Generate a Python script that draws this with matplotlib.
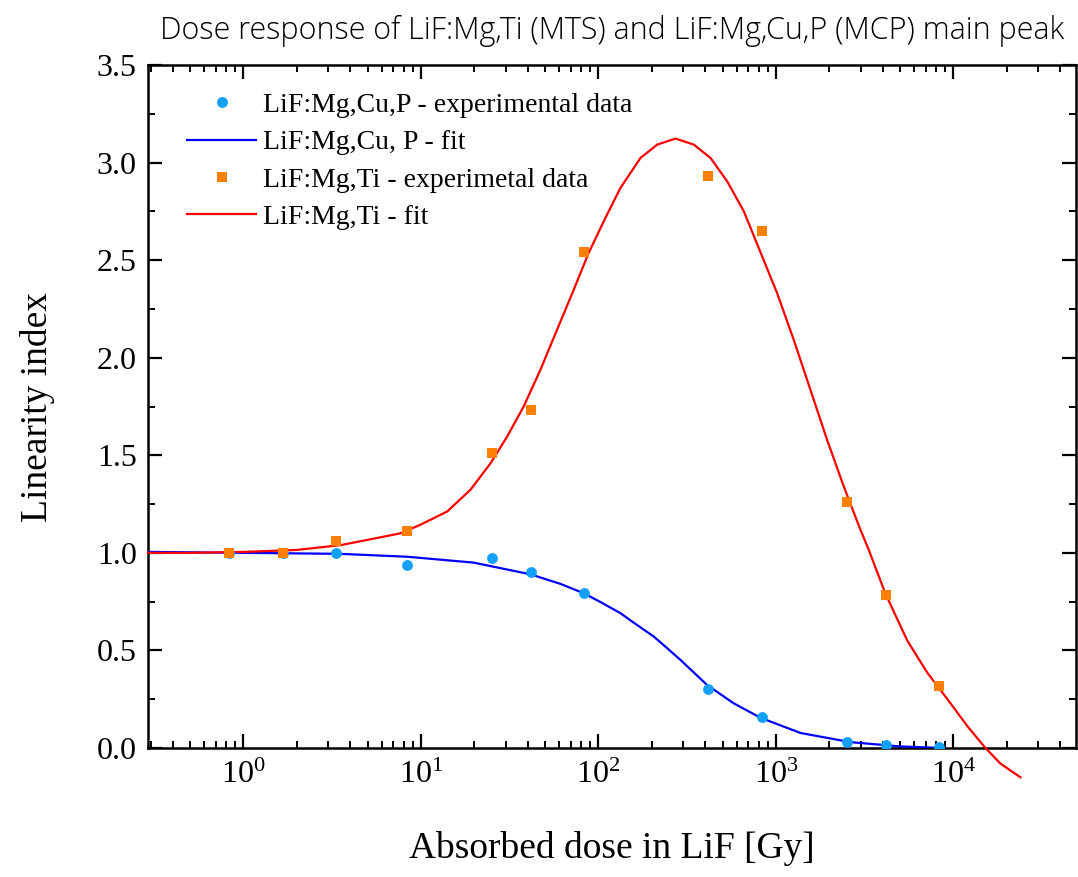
import numpy as np
import matplotlib
matplotlib.use("Agg")
import matplotlib.pyplot as plt
from matplotlib.ticker import LogLocator, MultipleLocator, NullFormatter, FormatStrFormatter

plt.rcParams['font.family'] = ['Liberation Serif', 'DejaVu Serif']
plt.rcParams['mathtext.fontset'] = 'custom'
plt.rcParams['mathtext.rm'] = 'Liberation Serif'
plt.rcParams['mathtext.it'] = 'Liberation Serif:italic'
plt.rcParams['mathtext.default'] = 'regular'

# ---- data ----
dose = [0.83, 1.66, 3.33, 8.33, 25, 41.6, 83.3, 416, 833, 2500, 4166, 8333]
mcp_exp = [1.00, 1.00, 1.00, 0.94, 0.975, 0.90, 0.795, 0.30, 0.16, 0.03, 0.015, 0.005]
mts_exp = [1.00, 1.00, 1.06, 1.11, 1.51, 1.73, 2.54, 2.93, 2.65, 1.26, 0.785, 0.32]

mcp_fit_x = [0.29, 1.0, 3.5, 8.4, 19.8, 41.4, 61.1, 82.6, 102.6, 133, 157, 205, 245,
             290, 409, 578, 818, 1374, 2630, 5012, 8710]
mcp_fit_y = [1.005, 1.0, 0.995, 0.98, 0.95, 0.89, 0.841, 0.793, 0.748, 0.691, 0.644,
             0.571, 0.51, 0.451, 0.323, 0.229, 0.155, 0.077, 0.03, 0.008, 0.0]

mts_fit_x = [0.29, 0.5, 1.0, 2.0, 3.55, 7.67, 9.93, 14.06, 19.0, 24.7, 30.6, 37.9,
             47.1, 58.5, 72.6, 88.1, 107.2, 133, 172.6, 214.3, 271.6, 344.4, 427.6,
             530.9, 659.2, 818.5, 1016, 1259, 1563, 1941, 2410, 2992, 3334, 4140,
             5495, 7129, 9247, 12020, 15140, 18400, 23820]
mts_fit_y = [1.00, 1.00, 1.005, 1.015, 1.04, 1.10, 1.144, 1.212, 1.323, 1.46, 1.596,
             1.75, 1.938, 2.144, 2.349, 2.537, 2.70, 2.87, 3.024, 3.092, 3.123, 3.092,
             3.024, 2.904, 2.75, 2.54, 2.33, 2.092, 1.836, 1.579, 1.34, 1.118, 1.015,
             0.79, 0.55, 0.385, 0.25, 0.11, 0.0, -0.08, -0.15]

labels = ["LiF:Mg,Cu,P - experimental data", "LiF:Mg,Cu, P - fit",
          "LiF:Mg,Ti - experimetal data", "LiF:Mg,Ti - fit"]
title = "Dose response of LiF:Mg,Ti (MTS) and LiF:Mg,Cu,P (MCP) main peak"

fig = plt.figure(figsize=(10.78, 8.77), dpi=100)
ax = fig.add_axes([148/1078, 1-748/877, (1076-148)/1078, (748-65)/877])

h1, = ax.plot(dose, mcp_exp, 'o', color='#12A0FA', markersize=7.8, markeredgewidth=0,
              label=labels[0], zorder=4)
h2, = ax.plot(mcp_fit_x, mcp_fit_y, '-', color='#0000FF', lw=1.6, label=labels[1], zorder=3)
h3, = ax.plot(dose, mts_exp, 's', color='#FF8000', markersize=6.5, markeredgewidth=0,
              label=labels[2], zorder=4)
h4, = ax.plot(mts_fit_x, mts_fit_y, '-', color='#FF0000', lw=1.6, label=labels[3],
              zorder=3, clip_on=False)

ax.set_xscale('log')
ax.set_xlim(0.29, 49000)
ax.set_ylim(0, 3.5)
ax.yaxis.set_major_locator(MultipleLocator(0.5))
ax.yaxis.set_minor_locator(MultipleLocator(0.25))
ax.xaxis.set_major_locator(LogLocator(base=10, numticks=20))
ax.xaxis.set_minor_locator(LogLocator(base=10, subs=np.arange(2, 10), numticks=20))
ax.xaxis.set_minor_formatter(NullFormatter())
ax.yaxis.set_major_formatter(FormatStrFormatter('%.1f'))

for s in ax.spines.values():
    s.set_linewidth(1.8)
ax.tick_params(axis='both', which='major', direction='in', length=10, width=1.6,
               labelsize=23, top=True, right=True)
ax.tick_params(axis='both', which='minor', direction='in', length=5, width=1.4,
               top=True, right=True)
ax.tick_params(axis='x', which='major', pad=9)
ax.tick_params(axis='y', which='major', pad=8)

ax.set_xlabel("Absorbed dose in LiF [Gy]", fontsize=27, labelpad=30)
ax.set_ylabel("Linearity index", fontsize=27, labelpad=30)
ax.set_title(title, fontsize=22, family=['Open Sans', 'DejaVu Sans'],
             fontweight='light', pad=19)

leg = ax.legend(handles=[h1, h2, h3, h4], loc='upper left', frameon=False,
                fontsize=20, bbox_to_anchor=(0.024, 0.984), handlelength=2.5,
                handletextpad=0.25, labelspacing=0.43, borderaxespad=0.2)

fig.savefig('out.png', dpi=100)
